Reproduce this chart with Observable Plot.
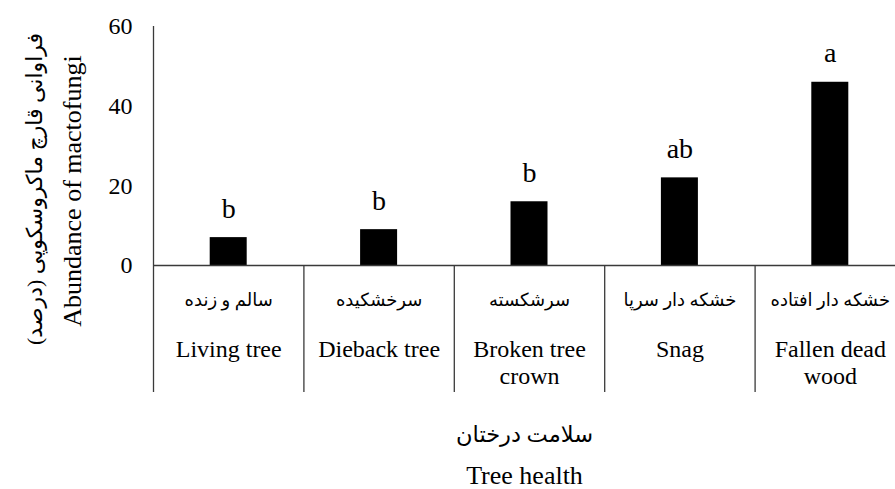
<!DOCTYPE html>
<html><head><meta charset="utf-8">
<script src="https://cdn.jsdelivr.net/npm/d3@7"></script>
<script src="https://cdn.jsdelivr.net/npm/@observablehq/plot@0.6"></script>
<style>html,body{margin:0;padding:0;overflow:hidden;background:#fff}</style>
</head><body><div id="chart"></div>
<script>
const categoriesEn = ["Living tree", "Dieback tree", "Broken tree\ncrown", "Snag", "Fallen dead\nwood"];
const categoriesFa = ["سالم و زنده", "سرخشکیده", "سرشکسته", "خشکه دار سرپا", "خشکه دار افتاده"];
const abundance = [7, 9, 16, 22, 46];
const letters = ["b", "b", "b", "ab", "a"];
const yTicks = [0, 20, 40, 60];
const yTitleFa = "فراوانی قارچ ماکروسکوپی (درصد)\u200F";
const yTitleEn = "Abundance of mactofungi";
const xTitleFa = "سلامت درختان";
const xTitleEn = "Tree health";

const data = categoriesEn.map((c, i) => ({i, en: c, fa: categoriesFa[i], value: abundance[i], letter: letters[i]}));
const boundaries = d3.range(1, categoriesEn.length);

const serif = "'Liberation Serif', 'Times New Roman', serif";
const faFont = "'Liberation Serif', 'DejaVu Sans', sans-serif";
const lineColor = "#3a3a3a";

const chart = Plot.plot({
  width: 895,
  height: 489,
  marginLeft: 153,
  marginRight: 0,
  marginTop: 26,
  marginBottom: 224,
  style: {fontFamily: serif, background: "white", color: "black"},
  x: {type: "linear", domain: [0, categoriesEn.length], range: [153, 905], axis: null},
  y: {domain: [0, 60], range: [265, 26]},
  marks: [
    Plot.rectY(data, {x1: d => d.i, x2: d => d.i + 1, y: "value", insetLeft: 56.7, insetRight: 56.7, fill: "black"}),
    Plot.ruleY([0], {stroke: lineColor, strokeWidth: 1.3}),
    Plot.ruleX([0], {y1: 60, y2: 0, insetBottom: -127, stroke: lineColor, strokeWidth: 1.3}),
    Plot.ruleX(boundaries, {y1: 0, y2: 0, insetBottom: -127, stroke: lineColor, strokeWidth: 1.3}),
    Plot.axisY(yTicks, {tickSize: 0, tickPadding: 21, fontSize: 24, label: null, fontFamily: serif}),
    Plot.text(data, {x: d => d.i + 0.5, y: "value", text: "letter", dy: -20, lineAnchor: "bottom", fontSize: 28, fontFamily: serif}),
    Plot.text(data, {x: d => d.i + 0.5, y: 0, text: "fa", dy: 35, lineAnchor: "middle", fontSize: 18, fontFamily: faFont}),
    Plot.text(data, {x: d => d.i + 0.5, y: 0, text: "en", dy: 73, lineAnchor: "top", lineHeight: 1.1, fontSize: 24, fontFamily: serif}),
    Plot.text([xTitleFa], {frameAnchor: "bottom", textAnchor: "middle", dy: 169, lineAnchor: "middle", fontSize: 22.5, fontFamily: faFont}),
    Plot.text([xTitleEn], {frameAnchor: "bottom", textAnchor: "middle", dy: 210, lineAnchor: "middle", fontSize: 26, fontFamily: serif}),
    Plot.text([yTitleFa], {frameAnchor: "left", textAnchor: "middle", rotate: -90, dx: -119, dy: 43, lineAnchor: "middle", fontSize: 22, fontFamily: faFont}),
    Plot.text([yTitleEn], {frameAnchor: "left", textAnchor: "middle", rotate: -90, dx: -81, dy: 45, lineAnchor: "middle", fontSize: 26, fontFamily: serif})
  ]
});
document.getElementById("chart").appendChild(chart);
</script>
</body></html>
